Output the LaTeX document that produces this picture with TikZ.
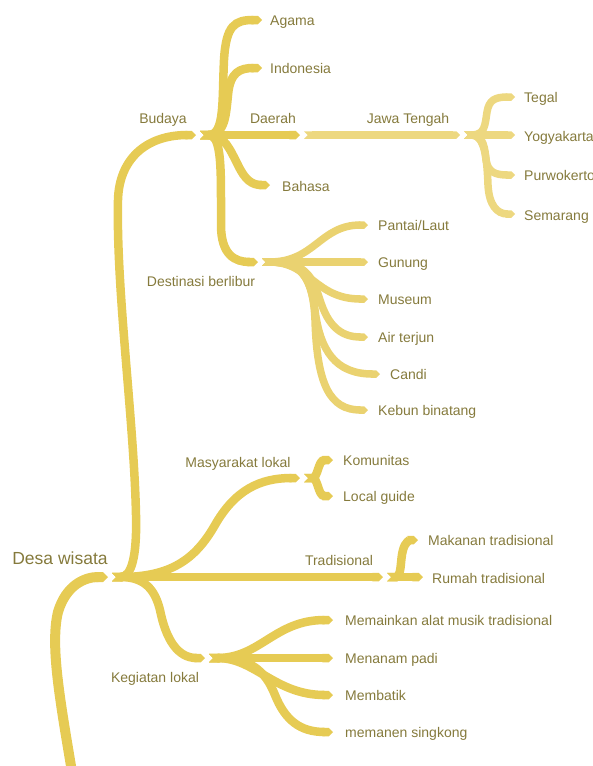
\documentclass[tikz,border=0pt]{standalone}
\usepackage{fontspec}
\setmainfont{Liberation Sans}
\usetikzlibrary{arrows.meta}
\definecolor{bra}{HTML}{E6CB54}
\definecolor{brb}{HTML}{EAD270}
\definecolor{brc}{HTML}{EDD880}
\definecolor{txt}{HTML}{857A3C}
\begin{document}
\begin{tikzpicture}[x=1pt,y=-1pt,
  br/.style={draw=bra, line width=8.5pt, arrows={Triangle Cap[reversed]-Triangle Cap}},
  brl/.style={br, draw=brb, line width=7.5pt},
  brj/.style={br, draw=brc, line width=7.5pt},
  lbl/.style={text=txt, font=\fontsize{14}{16}\selectfont, inner sep=0pt, anchor=base},
  leaf/.style={lbl, anchor=base west},
]
\useasboundingbox (0,0) rectangle (592,766);
% junction coordinates
\coordinate (root0) at (72,772);
\coordinate (R) at (108,577);
\coordinate (Rs) at (112,577);
\coordinate (Bt) at (196,135);
\coordinate (Bs) at (200,135);
\coordinate (Dat) at (300,135);
\coordinate (Js0) at (304,135);
\coordinate (Jt) at (460,135);
\coordinate (Js) at (464,135);
\coordinate (Dt) at (258,262);
\coordinate (Ds) at (262,262);
\coordinate (Mt) at (300,478);
\coordinate (Ms) at (304,478);
\coordinate (Tt) at (383,577);
\coordinate (Ts) at (387,577);
\coordinate (Kt) at (205,658);
\coordinate (Ks) at (209,658);
% leaf tips
\coordinate (tAgama) at (262,20);
\coordinate (tIndo) at (262,68);
\coordinate (tBahasa) at (270,185);
\coordinate (tTegal) at (515,97);
\coordinate (tYogya) at (515,135);
\coordinate (tPurwo) at (515,175);
\coordinate (tSemar) at (515,214);
\coordinate (tPantai) at (368,225);
\coordinate (tGunung) at (368,262);
\coordinate (tMuseum) at (368,299);
\coordinate (tAir) at (368,337);
\coordinate (tCandi) at (380,374);
\coordinate (tKebun) at (368,410);
\coordinate (tKom) at (333,460);
\coordinate (tLocal) at (333,496);
\coordinate (tMakan) at (418,540);
\coordinate (tRumah) at (423,577);
\coordinate (tMain) at (333,620);
\coordinate (tTanam) at (333,658);
\coordinate (tBatik) at (333,695);
\coordinate (tPanen) at (333,732);

% trunk
\draw[br, line width=10pt, arrows={-Triangle Cap}] (root0) .. controls (60,700) and (50,645) .. (58,612) .. controls (66,585) and (85,577) .. (R);
% level 1
\draw[br] (Rs) .. controls (132,577) and (137,555) .. (136,515) .. controls (134,420) and (116,290) .. (118,200) .. controls (119,160) and (145,135) .. (Bt);
\draw[br] (Rs) .. controls (170,577) and (195,560) .. (215,525) .. controls (235,490) and (260,478) .. (Mt);
\draw[br] (Rs) -- (Tt);
\draw[br] (Rs) .. controls (145,577) and (155,590) .. (160,610) .. controls (166,640) and (178,658) .. (Kt);
% Budaya children
\draw[br] (Bs) .. controls (225,135) and (222,100) .. (224,60) .. controls (226,25) and (235,20) .. (tAgama);
\draw[br] (Bs) .. controls (225,135) and (226,115) .. (228,95) .. controls (230,72) and (240,68) .. (tIndo);
\draw[br] (Bs) -- (Dat);
\draw[brj] (Js0) -- (Jt);
\draw[br] (Bs) .. controls (225,135) and (230,150) .. (238,165) .. controls (245,180) and (252,185) .. (tBahasa);
\draw[br] (Bs) .. controls (220,135) and (221,160) .. (221,200) -- (221,225) .. controls (221,255) and (235,262) .. (Dt);
% Jawa Tengah children
\draw[brj] (Js) .. controls (485,135) and (485,125) .. (487,112) .. controls (489,100) and (495,97) .. (tTegal);
\draw[brj] (Js) -- (tYogya);
\draw[brj] (Js) .. controls (484,135) and (485,150) .. (486,160) .. controls (488,172) and (495,175) .. (tPurwo);
\draw[brj] (Js) .. controls (485,135) and (487,160) .. (488,185) .. controls (489,205) and (497,214) .. (tSemar);
% Destinasi children
\draw[brl] (Ds) .. controls (315,262) and (320,225) .. (tPantai);
\draw[brl] (Ds) -- (tGunung);
\draw[brl] (Ds) .. controls (310,262) and (315,299) .. (tMuseum);
\draw[brl] (Ds) .. controls (305,262) and (312,275) .. (320,300) .. controls (328,325) and (340,337) .. (tAir);
\draw[brl] (Ds) .. controls (300,262) and (310,275) .. (315,310) .. controls (320,350) and (335,374) .. (tCandi);
\draw[brl] (Ds) .. controls (300,262) and (313,275) .. (315,320) .. controls (317,385) and (330,410) .. (tKebun);
% Masyarakat children
\draw[br] (Ms) .. controls (318,478) and (318,460) .. (tKom);
\draw[br] (Ms) .. controls (318,478) and (318,496) .. (tLocal);
% Tradisional children
\draw[br] (Ts) .. controls (402,577) and (400,560) .. (403,550) .. controls (405,542) and (410,540) .. (tMakan);
\draw[br] (Ts) -- (tRumah);
% Kegiatan children
\draw[br] (Ks) .. controls (260,658) and (275,620) .. (tMain);
\draw[br] (Ks) -- (tTanam);
\draw[br] (Ks) .. controls (255,658) and (275,695) .. (tBatik);
\draw[br] (Ks) .. controls (250,658) and (265,670) .. (275,695) .. controls (285,720) and (300,732) .. (tPanen);

% labels
\node[lbl, font=\fontsize{17.5}{20}\selectfont] (nDesa) at (60,564) {Desa wisata};
\node[lbl] (nBudaya) at (163,123) {Budaya};
\node[lbl] (nDaerah) at (273,123) {Daerah};
\node[lbl] (nJawa) at (408,123) {Jawa Tengah};
\node[lbl] (nDest) at (201,286) {Destinasi berlibur};
\node[lbl] (nMasy) at (238,467) {Masyarakat lokal};
\node[lbl] (nTrad) at (339,565) {Tradisional};
\node[lbl] (nKeg) at (155,682) {Kegiatan lokal};
\node[leaf] (nAgama) at (270,25) {Agama};
\node[leaf] (nIndo) at (270,73) {Indonesia};
\node[leaf] (nBahasa) at (282,191) {Bahasa};
\node[leaf] (nTegal) at (524,102) {Tegal};
\node[leaf] (nYogya) at (524,141) {Yogyakarta};
\node[leaf] (nPurwo) at (524,180) {Purwokerto};
\node[leaf] (nSemar) at (524,220) {Semarang};
\node[leaf] (nPantai) at (378,230) {Pantai/Laut};
\node[leaf] (nGunung) at (378,267) {Gunung};
\node[leaf] (nMuseum) at (378,304) {Museum};
\node[leaf] (nAir) at (378,342) {Air terjun};
\node[leaf] (nCandi) at (390,379) {Candi};
\node[leaf] (nKebun) at (378,415) {Kebun binatang};
\node[leaf] (nKom) at (343,465) {Komunitas};
\node[leaf] (nLocal) at (343,501) {Local guide};
\node[leaf] (nMakan) at (428,545) {Makanan tradisional};
\node[leaf] (nRumah) at (432,583) {Rumah tradisional};
\node[leaf] (nMain) at (345,625) {Memainkan alat musik tradisional};
\node[leaf] (nTanam) at (345,663) {Menanam padi};
\node[leaf] (nBatik) at (345,700) {Membatik};
\node[leaf] (nPanen) at (345,737) {memanen singkong};
\end{tikzpicture}
\end{document}
